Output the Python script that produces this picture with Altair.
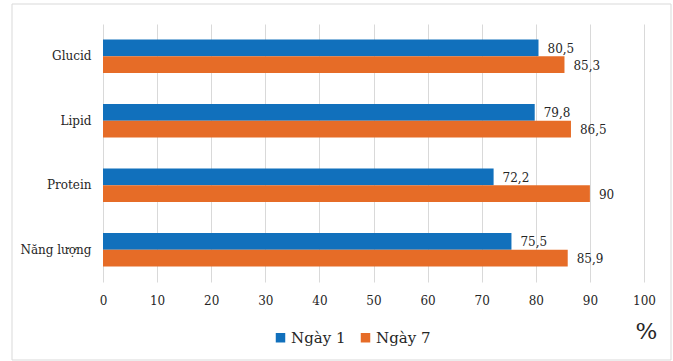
import altair as alt
import pandas as pd

categories = ["Glucid", "Lipid", "Protein", "Năng lượng"]
series = ["Ngày 1", "Ngày 7"]
day1 = [80.5, 79.8, 72.2, 75.5]
day7 = [85.3, 86.5, 90, 85.9]
x_ticks = list(range(0, 101, 10))

colors = ["#1170bc", "#e66c27"]
font = "DejaVu Serif"
text_color = "#262626"

rows = []
for cat, a, b in zip(categories, day1, day7):
    for name, v in ((series[0], a), (series[1], b)):
        rows.append({
            "category": cat,
            "series": name,
            "value": v,
            "label": f"{v:g}".replace(".", ","),
        })
df = pd.DataFrame(rows)

x_enc = alt.X(
    "value:Q",
    scale=alt.Scale(domain=[0, 100], nice=False),
    axis=alt.Axis(
        values=x_ticks,
        title="%",
        titleFontSize=23,
        titleFontWeight="normal",
        titleFont=font,
        titleColor=text_color,
        titleX=543,
        titleY=49,
        titleAlign="center",
        titleBaseline="middle",
        labelFontSize=12,
        labelFont=font,
        labelColor=text_color,
        labelPadding=13,
        labelFlush=False,
        ticks=False,
        tickSize=0,
        domain=False,
        grid=True,
        gridColor="#d9d9d9",
        gridWidth=1,
    ),
)
y_enc = alt.Y(
    "category:N",
    sort=categories,
    scale=alt.Scale(paddingInner=0.48, paddingOuter=0.24),
    axis=alt.Axis(
        title=None,
        labelFontSize=12,
        labelFont=font,
        labelColor=text_color,
        labelPadding=12,
        ticks=False,
        tickSize=0,
        domain=False,
        grid=False,
    ),
)
yoff_enc = alt.YOffset(
    "series:N", sort=series, scale=alt.Scale(paddingInner=0, paddingOuter=0)
)

base = alt.Chart(df)

bars = base.mark_bar().encode(
    x=x_enc,
    y=y_enc,
    yOffset=yoff_enc,
    color=alt.Color(
        "series:N",
        sort=series,
        scale=alt.Scale(domain=series, range=colors),
        legend=alt.Legend(
            title=None,
            orient="none",
            direction="horizontal",
            legendX=170,
            legendY=306,
            symbolType="square",
            symbolSize=90,
            symbolStrokeWidth=0,
            labelFont=font,
            labelFontSize=15,
            labelColor=text_color,
            labelOffset=3,
            columnPadding=12,
            padding=0,
        ),
    ),
)

labels = base.mark_text(
    align="left", baseline="middle", dx=9, dy=1,
    font=font, fontSize=12, color=text_color,
).encode(
    x=x_enc,
    y=y_enc,
    yOffset=yoff_enc,
    text="label:N",
)

frame = alt.Chart(pd.DataFrame({"k": [0]})).mark_rect(
    fillOpacity=0, stroke="#d9d9d9", strokeWidth=1
).encode(
    x=alt.value(-91), x2=alt.value(568), y=alt.value(-20), y2=alt.value(336)
)

chart = alt.layer(frame, bars, labels).properties(
    width=541,
    height=258,
    autosize=alt.AutoSizeParams(type="none"),
    padding={"left": 103, "top": 24, "right": 29, "bottom": 79},
    background="white",
).configure_view(stroke=None)

chart.save("out.html", embed_options={"renderer": "svg", "actions": False})
